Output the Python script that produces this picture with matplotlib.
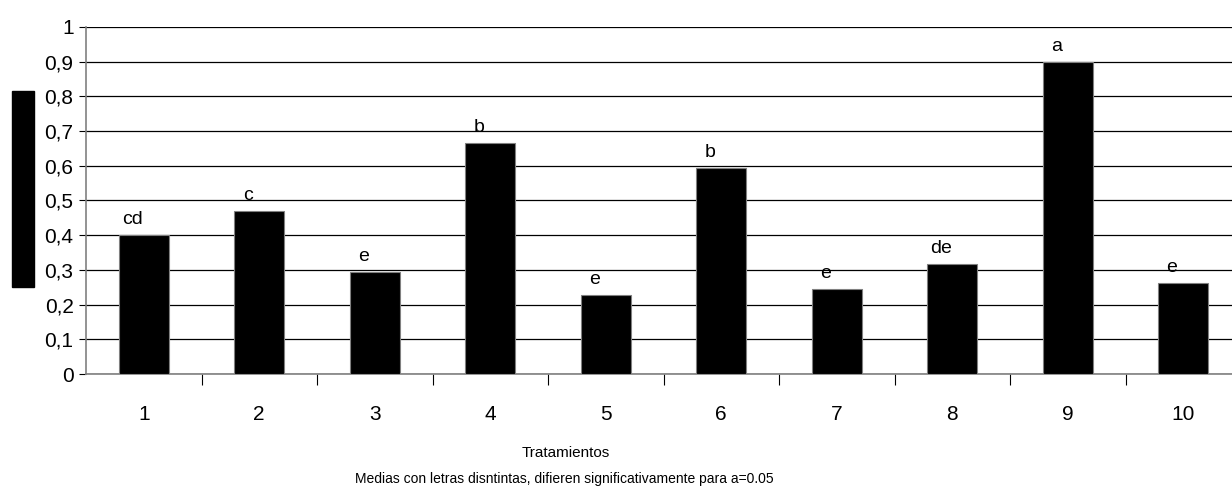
import matplotlib
matplotlib.use('Agg')
import matplotlib.pyplot as plt
from matplotlib.patches import Rectangle
from matplotlib.ticker import MultipleLocator, FuncFormatter

tratamientos = ['1', '2', '3', '4', '5', '6', '7', '8', '9', '10']
medias = [0.400, 0.471, 0.293, 0.665, 0.229, 0.593, 0.246, 0.318, 0.898, 0.261]
letras = ['cd', 'c', 'e', 'b', 'e', 'b', 'e', 'de', 'a', 'e']

plt.rcParams['font.family'] = ['Liberation Sans', 'DejaVu Sans']

fig = plt.figure(figsize=(12.32, 4.97), dpi=100)
# axes run past the right edge of the picture, as in the original
ax = fig.add_axes([86 / 1232, 123 / 497, 1155 / 1232, 347 / 497])

x = list(range(len(tratamientos)))
ax.bar(x, medias, width=0.43, color='black', edgecolor='#808080', linewidth=0.8, zorder=3)

for xi, v, l in zip(x, medias, letras):
    ax.text(xi - 0.1, v + 0.02, l, ha='center', va='bottom', fontsize=14, zorder=4)

ax.set_xlim(-0.5, len(x) - 0.5)
ax.set_ylim(0, 1)
ax.yaxis.set_major_locator(MultipleLocator(0.1))
ax.yaxis.set_major_formatter(FuncFormatter(lambda v, p: ('%g' % round(v, 1)).replace('.', ',')))
ax.grid(axis='y', color='black', linewidth=0.9, zorder=0)

ax.set_xticks(x)
ax.set_xticklabels(tratamientos, fontsize=15)
ax.set_xticks([i + 0.5 for i in x[:-1]], minor=True)
ax.tick_params(axis='x', which='major', length=0, pad=22)
ax.tick_params(axis='x', which='minor', length=8, width=0.8, color='black', direction='out')
ax.tick_params(axis='y', length=5, width=0.8, labelsize=15, pad=4)

for s in ['top', 'right']:
    ax.spines[s].set_visible(False)
ax.spines['left'].set_color('#808080')
ax.spines['bottom'].set_color('#808080')
ax.spines['left'].set_linewidth(1.2)
ax.spines['bottom'].set_linewidth(1.2)

# y-axis title box rendered as solid black block in the source
fig.patches.append(Rectangle((12, 210), 22, 196, transform=None, color='black'))

fig.text(566 / 1232, 1 - 453 / 497, 'Tratamientos', ha='center', va='center', fontsize=11)
fig.text(564 / 1232, 1 - 479 / 497,
         'Medias con letras disntintas, difieren significativamente para a=0.05',
         ha='center', va='center', fontsize=10)

fig.savefig('out.png', dpi=100)
